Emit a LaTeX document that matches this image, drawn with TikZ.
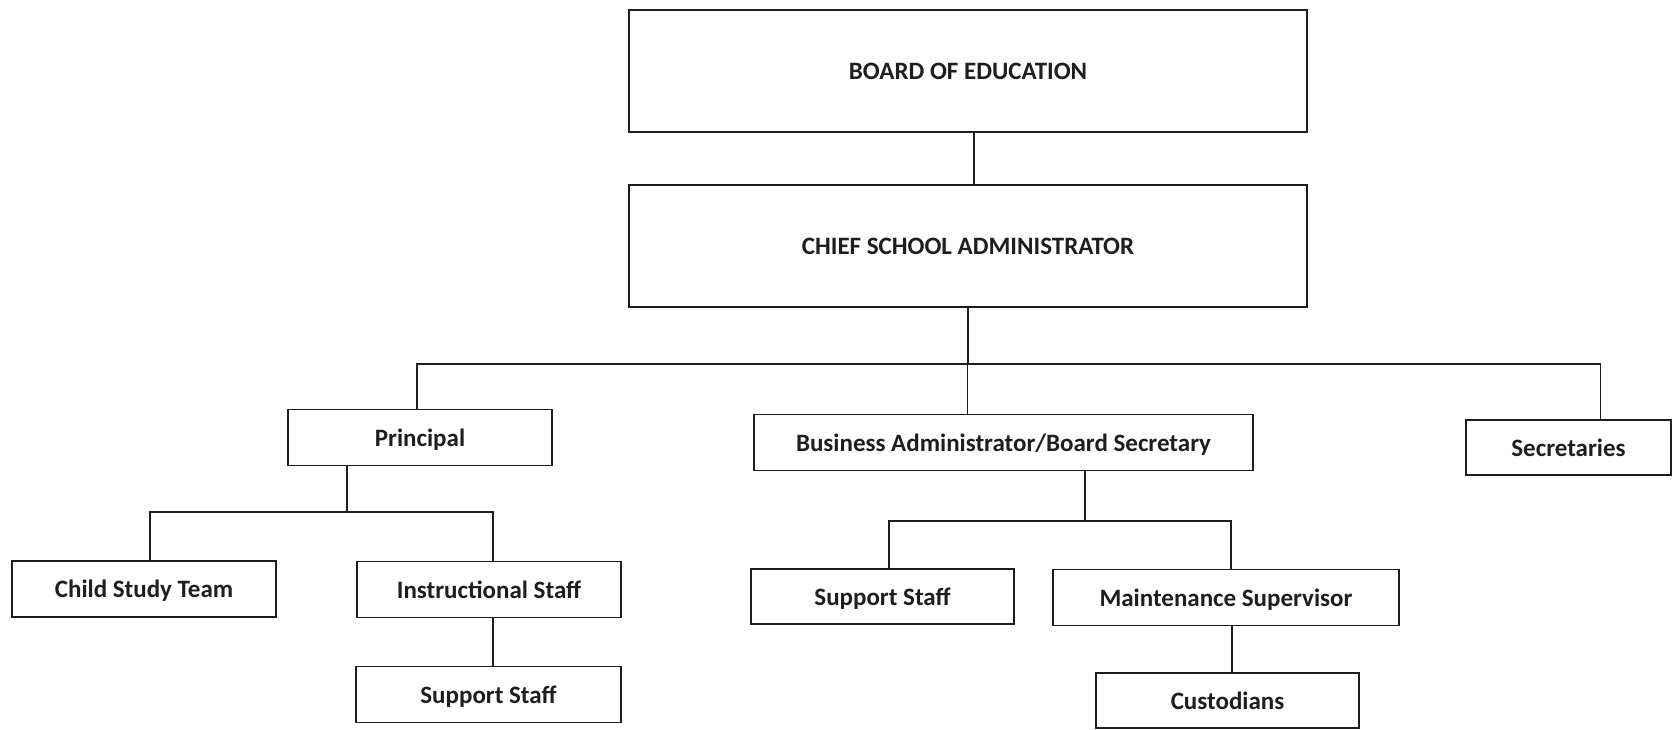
\documentclass[tikz,border=0pt]{standalone}
\usepackage{fontspec}
\setmainfont{Carlito}
\usepackage{xcolor}
\definecolor{chartInk}{HTML}{1E1E1E}
\usetikzlibrary{positioning, calc}
\tikzset{
  %% ── Boxes ────────────────────────────────────────────────────────────
  %% One plain frame for every post; the two governing posts are the tall
  %% ones, the rest share a single height.
  post/.style      = {draw=chartInk, line width=1.5pt, fill=white,
                      text=chartInk, align=center, inner sep=0pt,
                      text height=17pt, text depth=0pt,
                      font=\fontsize{25}{30}\selectfont\bfseries},
  postWide/.style  = {post, minimum width=678pt, minimum height=122pt},
  postLow/.style   = {post, minimum height=56pt},
  %%
  %% ── Lines ────────────────────────────────────────────────────────────
  link/.style      = {draw=chartInk, line width=1.4pt},
}

\begin{document}
\begin{tikzpicture}[x=1pt, y=-1pt]
\useasboundingbox (0,0) rectangle (1673,730);

%% Board and chief administrator.
\node[postWide] (board) at (968, 71) {BOARD OF EDUCATION};
\node[postWide] (csa) at (968, 246) {CHIEF SCHOOL ADMINISTRATOR};
\draw[link] ([xshift=6pt]board.south) -- ([xshift=6pt]csa.north);

%% Second row.
\node[postLow, minimum width=264pt] (principal) at (420, 437.5) {Principal};
\node[postLow, minimum width=499pt] (bizadm) at (1003.5, 442.5)
     {Business Administrator/Board Secretary};
\node[postLow, minimum width=205pt, minimum height=55pt] (secretaries)
     at (1568.5, 447.5) {Secretaries};

\coordinate (busMain) at (968, 364);
\draw[link] (csa.south) -- (busMain);
\draw[link] ([xshift=-3pt]principal.north) |- (busMain)
            -| ([xshift=32pt]secretaries.north);
\draw[link] ([xshift=-36pt]bizadm.north) -- ([xshift=-36pt]bizadm.north |- busMain);

%% Under the principal.
\node[postLow, minimum width=264pt] (childstudy) at (144, 589) {Child Study Team};
\node[postLow, minimum width=264pt] (instr) at (489, 589.5) {Instructional Staff};
\node[postLow, minimum width=265pt] (supportA) at (488.5, 694.5) {Support Staff};

\coordinate (busPrin) at (347, 512);
\draw[link] ([xshift=-73pt]principal.south) -- (busPrin);
\draw[link] ([xshift=6pt]childstudy.north) |- (busPrin) -| ([xshift=4pt]instr.north);
\draw[link] ([xshift=4pt]instr.south) -- ([xshift=4.5pt]supportA.north);

%% Under the business administrator.
\node[postLow, minimum width=263pt, minimum height=55pt] (supportB) at (882.5, 596.5)
     {Support Staff};
\node[postLow, minimum width=346pt] (maint) at (1226, 597.5) {Maintenance Supervisor};
\node[postLow, minimum width=263pt, minimum height=55pt] (custodians) at (1227.5, 700.5)
     {Custodians};

\coordinate (busBiz) at (1085, 521);
\draw[link] ([xshift=81.5pt]bizadm.south) -- (busBiz);
\draw[link] ([xshift=6.5pt]supportB.north) |- (busBiz) -| ([xshift=5pt]maint.north);
\draw[link] ([xshift=6pt]maint.south) -- ([xshift=4.5pt]custodians.north);

\end{tikzpicture}
\end{document}
